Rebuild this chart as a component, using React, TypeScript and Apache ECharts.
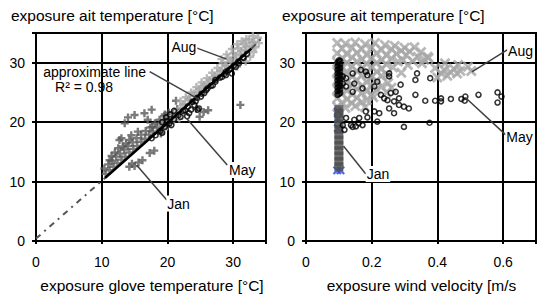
import React, { useEffect, useRef } from 'react';
import * as echarts from 'echarts';

const FONT = '"Liberation Sans", Arial, Helvetica, sans-serif';

// ---------- data (left: air temperature vs glove temperature) ----------
const yTicks = [0, 10, 20, 30];
const leftXTicks = [0, 10, 20, 30];
const rightXTicks = [0, 0.2, 0.4, 0.6];

const leftJan: number[][] = [
  [10.6, 11.3], [11.2, 11.9], [11.8, 12.5], [12.4, 13.1], [13.0, 13.7], [13.6, 14.2], [14.2, 14.9], [14.8, 15.5],
  [15.4, 16.0], [16.0, 16.7], [16.6, 17.2], [17.2, 17.9], [17.8, 18.4], [18.4, 19.1], [19.0, 19.6], [19.6, 20.2],
  [20.2, 20.8], [20.8, 21.4],
  [10.4, 12.2], [11.0, 12.9], [11.6, 13.5], [12.2, 14.2], [12.8, 14.7], [13.4, 15.4], [14.0, 16.0], [14.7, 16.6],
  [15.3, 17.3], [16.0, 17.9], [16.7, 18.5], [17.4, 19.1], [18.1, 19.8], [18.8, 20.4], [19.5, 21.0], [20.2, 21.6],
  [11.2, 13.6], [11.5, 14.3], [12.0, 14.9], [12.5, 15.6], [13.2, 15.9], [13.7, 16.4], [12.7, 17.0], [14.2, 17.0],
  [13.0, 17.3], [14.5, 17.8], [15.5, 18.4], [13.5, 19.8], [14.0, 20.8], [15.0, 21.2], [16.5, 21.5], [17.0, 20.4],
  [17.6, 22.1], [17.7, 19.2], [19.0, 18.1], [21.3, 23.6], [21.5, 22.2], [24.4, 22.2], [25.5, 21.7], [24.9, 20.9],
  [26.2, 22.0], [31.1, 22.9], [19.6, 21.3], [20.0, 19.3],
  [14.6, 13.0], [15.0, 12.6], [15.6, 13.2], [16.2, 13.6], [17.3, 14.8], [18.0, 15.2], [14.2, 12.5],
];

const leftAug: number[][] = [
  [19.2, 19.6], [19.9, 20.3], [20.6, 21.0], [21.3, 21.6], [22.0, 22.4], [22.7, 23.0], [23.4, 23.8], [24.1, 24.4],
  [24.8, 25.1], [25.5, 25.9], [26.2, 26.5], [26.9, 27.3], [27.6, 28.0], [28.3, 28.6], [29.0, 29.4], [29.7, 30.1],
  [30.4, 30.7], [31.1, 31.5], [31.8, 32.2], [32.5, 32.8], [33.2, 33.5], [33.8, 34.2],
  [22.0, 23.5], [22.8, 24.2], [23.6, 25.0], [24.4, 25.9], [25.2, 26.7], [26.0, 27.4], [26.8, 28.3], [27.6, 29.1],
  [28.4, 29.9], [29.2, 30.8], [30.0, 31.6], [30.8, 32.4], [31.6, 33.2], [32.4, 33.9],
  [22.4, 23.0], [23.2, 23.9], [24.0, 24.8], [24.8, 25.6], [25.6, 26.3], [26.4, 27.1], [27.2, 27.8], [28.0, 28.7],
  [28.8, 29.6], [29.6, 30.4], [30.4, 31.2], [31.2, 32.0], [32.0, 32.7], [32.9, 33.4],
  [28.2, 30.6], [29.0, 31.4], [29.8, 32.3], [30.6, 33.1], [31.3, 33.6], [32.0, 34.0], [33.0, 34.5],
  [31.9, 30.2], [32.6, 31.0], [33.1, 31.8], [33.4, 32.6], [30.6, 29.3], [33.9, 33.3],
  [19.5, 18.8], [20.5, 19.8], [21.8, 20.6], [22.5, 21.6], [21.0, 20.4],
];

const leftMay: number[][] = [
  [17.6, 17.3], [18.2, 17.8], [18.9, 18.5], [19.6, 19.2], [20.3, 19.8], [21.0, 20.5], [21.7, 21.2], [22.4, 21.9],
  [23.1, 22.6], [23.8, 23.4], [24.5, 24.1], [25.2, 24.8], [25.9, 25.4], [26.6, 26.1], [27.3, 26.8], [28.0, 27.5],
  [28.7, 28.1], [29.4, 28.8], [30.1, 29.5], [30.8, 30.2], [31.5, 30.9], [32.1, 31.5],
  [19.2, 18.2], [20.6, 19.5], [22.0, 20.9], [23.3, 21.5], [23.6, 22.1], [24.1, 22.9], [24.6, 22.1], [24.8, 22.3],
  [25.1, 24.3], [26.1, 25.7], [27.3, 27.1], [28.9, 27.9], [29.8, 28.2], [30.4, 29.3], [31.6, 30.8], [30.9, 29.9],
  [28.9, 28.5], [23.0, 21.0], [19.2, 20.0], [19.8, 20.8], [20.4, 21.3], [21.0, 21.9], [20.0, 20.2],
  [25.6, 24.9], [26.9, 26.2], [28.3, 27.6], [29.7, 29.0], [24.3, 23.5], [22.7, 22.0],
];

// approximate line y = f(x), R^2 = 0.98
const approxDashLow: number[][] = [[0, 0.4], [10.5, 10.6]];
const approxSolid: number[][] = [[10.5, 10.6], [32.8, 32.4]];
const approxDashHigh: number[][] = [[32.8, 32.4], [34.7, 34.5]];

// ---------- data (right: air temperature vs wind velocity) ----------
const rightAug: number[][] = [
  [0.095, 33.3], [0.12, 33.2], [0.15, 33.4], [0.18, 33.1], [0.21, 33.3], [0.24, 33.0], [0.27, 32.8], [0.30, 32.5], [0.33, 32.6],
  [0.11, 32.4], [0.14, 32.5], [0.17, 32.3], [0.20, 32.5], [0.23, 32.2], [0.26, 32.3], [0.29, 32.0], [0.315, 31.9],
  [0.095, 31.6], [0.125, 31.4], [0.155, 31.7], [0.185, 31.3], [0.215, 31.6], [0.245, 31.2], [0.275, 31.5], [0.305, 31.3],
  [0.34, 31.0], [0.36, 30.5], [0.35, 31.8], [0.37, 31.0],
  [0.11, 30.8], [0.14, 30.9], [0.17, 30.6], [0.20, 30.8], [0.23, 30.5], [0.26, 30.7], [0.295, 30.4], [0.325, 30.3],
  [0.095, 30.1], [0.125, 29.9], [0.155, 30.2], [0.185, 29.8], [0.215, 30.0], [0.245, 29.7], [0.28, 30.2], [0.31, 29.6],
  [0.373, 30.8], [0.393, 29.1], [0.423, 29.9], [0.463, 29.6], [0.493, 29.3], [0.353, 29.9],
  [0.11, 29.3], [0.14, 29.4], [0.17, 29.1], [0.20, 29.3], [0.23, 29.0], [0.265, 29.2],
  [0.095, 28.5], [0.125, 28.3], [0.155, 28.6], [0.185, 28.2], [0.215, 28.5], [0.245, 28.0], [0.29, 28.3], [0.412, 28.2],
  [0.42, 28.8], [0.44, 28.4], [0.43, 27.8], [0.45, 29.0], [0.46, 28.2], [0.47, 28.6], [0.503, 28.6], [0.40, 27.5],
  [0.11, 27.8], [0.14, 27.7], [0.17, 27.9], [0.20, 27.6], [0.23, 27.8],
  [0.095, 27.0], [0.125, 26.8], [0.155, 27.1], [0.185, 26.7], [0.215, 27.0], [0.25, 26.6],
  [0.11, 26.2], [0.14, 26.3], [0.17, 26.1], [0.20, 26.3], [0.23, 26.0],
  [0.095, 25.5], [0.125, 25.3], [0.155, 25.6], [0.185, 25.2], [0.215, 25.5], [0.245, 25.0], [0.26, 25.8],
  [0.11, 24.8], [0.14, 24.7], [0.17, 24.9], [0.20, 24.6],
  [0.095, 24.0], [0.125, 23.8], [0.155, 24.1], [0.185, 23.7], [0.205, 24.2],
  [0.11, 23.3], [0.14, 23.2], [0.17, 23.4],
  [0.095, 22.6], [0.12, 22.4], [0.15, 22.7], [0.18, 22.5],
];

const rightBlue: number[][] = [[0.095, 11.9], [0.105, 11.9], [0.097, 19.0], [0.097, 20.5], [0.097, 21.8]];

const rightJan: number[][] = [
  [0.1, 12.5], [0.1, 13.4], [0.1, 14.3], [0.1, 15.2], [0.1, 16.1], [0.1, 17.0], [0.1, 17.9], [0.1, 18.8],
  [0.1, 19.7], [0.1, 20.6], [0.1, 21.5], [0.1, 22.1],
];

const rightMay: number[][] = [
  [0.096, 24.6], [0.104, 24.9], [0.096, 25.2], [0.104, 25.5], [0.096, 25.8], [0.104, 26.1], [0.096, 26.4], [0.104, 26.7],
  [0.096, 27.0], [0.104, 27.3], [0.096, 27.6], [0.104, 27.9], [0.096, 28.2], [0.104, 28.5], [0.096, 28.8], [0.104, 29.1],
  [0.096, 29.4], [0.104, 29.7], [0.096, 30.0], [0.104, 30.3], [0.1, 30.4],
  [0.1, 24.75], [0.1, 25.35], [0.1, 25.95], [0.1, 26.55], [0.1, 27.15], [0.1, 27.75], [0.1, 28.35], [0.1, 28.95],
  [0.1, 29.55], [0.1, 30.15],
  [0.112, 27.7], [0.122, 27.4], [0.142, 28.2], [0.167, 28.8], [0.182, 28.5], [0.187, 27.9], [0.112, 26.5], [0.147, 26.5],
  [0.122, 26.0], [0.217, 26.8], [0.253, 28.2], [0.253, 27.7], [0.288, 26.3], [0.142, 25.1], [0.172, 25.7], [0.208, 26.0],
  [0.258, 24.9], [0.273, 25.1], [0.228, 24.6], [0.238, 24.0], [0.248, 23.7], [0.283, 24.0], [0.268, 23.5], [0.283, 22.9],
  [0.298, 22.6], [0.313, 22.3], [0.253, 22.3], [0.268, 21.5], [0.338, 28.2], [0.378, 27.4], [0.333, 27.1], [0.333, 24.6],
  [0.363, 23.6], [0.393, 23.6], [0.411, 24.0], [0.411, 23.5], [0.441, 23.9], [0.473, 23.9], [0.485, 24.3], [0.483, 23.6],
  [0.525, 24.6], [0.583, 25.0], [0.595, 24.3], [0.583, 23.3], [0.182, 21.8], [0.208, 21.8], [0.223, 21.5], [0.217, 20.1],
  [0.187, 20.8], [0.162, 20.7], [0.147, 20.4], [0.137, 19.5], [0.142, 19.2], [0.122, 20.7], [0.112, 19.5], [0.117, 18.7],
  [0.172, 19.5], [0.298, 19.2], [0.376, 19.9], [0.152, 19.3], [0.16, 19.8],
];

// ---------- annotations (data coordinates) ----------
type Note = { grid: number; text: string; at: number[]; align: string; bg: boolean; from?: number[]; to?: number[] };
const notes: Note[] = [
  { grid: 0, text: 'Aug', at: [22.5, 32.6], align: 'center', bg: true, from: [24.4, 32.5], to: [29.0, 30.6] },
  { grid: 0, text: 'approximate line', at: [1.1, 28.4], align: 'left', bg: false, from: [17.3, 28.5], to: [25.0, 23.7] },
  { grid: 0, text: 'R² = 0.98', at: [2.9, 25.9], align: 'left', bg: false },
  { grid: 0, text: 'May', at: [31.4, 11.95], align: 'center', bg: true, from: [22.9, 20.65], to: [29.1, 12.8] },
  { grid: 0, text: 'Jan', at: [21.7, 6.3], align: 'center', bg: true, from: [15.3, 12.8], to: [19.9, 6.9] },
  { grid: 1, text: 'Aug', at: [0.653, 32.0], align: 'center', bg: true, from: [0.616, 32.3], to: [0.505, 28.45] },
  { grid: 1, text: 'May', at: [0.650, 17.55], align: 'center', bg: true, from: [0.485, 24.15], to: [0.608, 17.85] },
  { grid: 1, text: 'Jan', at: [0.219, 11.27], align: 'center', bg: true, from: [0.114, 16.0], to: [0.182, 11.27] },
];

const plusPath = 'path://M3.5,0H6.5V3.5H10V6.5H6.5V10H3.5V6.5H0V3.5H3.5Z';
const crossPath = 'path://M0,1.8L1.8,0L5,3.2L8.2,0L10,1.8L6.8,5L10,8.2L8.2,10L5,6.8L1.8,10L0,8.2L3.2,5Z';

const black = '#000';

function yAxis(gridIndex: number) {
  return {
    type: 'value', gridIndex, min: 0, max: 35, interval: 10,
    axisLine: { show: true, lineStyle: { color: black, width: 2 } },
    axisTick: { show: true, length: 4, lineStyle: { color: black, width: 2 } },
    splitLine: { show: true, lineStyle: { color: black, width: 2 } },
    axisLabel: {
      color: black, fontSize: 14, fontFamily: FONT, margin: 11,
      formatter: (v: number) => (yTicks.includes(Math.round(v * 100) / 100) ? String(v) : ''),
    },
  };
}

function xAxis(gridIndex: number, max: number, interval: number, ticks: number[]) {
  return {
    type: 'value', gridIndex, min: 0, max, interval,
    axisLine: { show: true, onZero: false, lineStyle: { color: black, width: 2 } },
    axisTick: { show: true, length: 3, lineStyle: { color: black, width: 2 } },
    splitLine: { show: true, lineStyle: { color: black, width: 2 } },
    axisLabel: {
      color: black, fontSize: 14, fontFamily: FONT, margin: 14,
      formatter: (v: number) => {
        const r = Math.round(v * 100) / 100;
        return ticks.includes(r) ? String(r) : '';
      },
    },
  };
}

export default function App() {
  const ref = useRef<HTMLDivElement>(null);
  useEffect(() => {
    const chart = echarts.init(ref.current!, null, { renderer: 'svg' });
    const circleStyle = { color: 'rgba(255,255,255,0)', borderColor: black, borderWidth: 1.6 };
    chart.setOption({
      animation: false,
      backgroundColor: '#fff',
      grid: [
        { left: 36, top: 33, width: 230, height: 208, show: true, borderColor: black, borderWidth: 2, backgroundColor: 'transparent' },
        { left: 306, top: 33, width: 233, height: 208, show: true, borderColor: black, borderWidth: 2, backgroundColor: 'transparent' },
      ],
      xAxis: [xAxis(0, 35, 10, leftXTicks), xAxis(1, 0.7, 0.2, rightXTicks)],
      yAxis: [yAxis(0), yAxis(1)],
      series: [
        { type: 'scatter', xAxisIndex: 0, yAxisIndex: 0, data: leftJan, symbol: plusPath, symbolSize: 8, itemStyle: { color: '#595959' }, silent: true },
        { type: 'scatter', xAxisIndex: 0, yAxisIndex: 0, data: leftAug, symbol: plusPath, symbolSize: 8, itemStyle: { color: '#a6a6a6' }, silent: true },
        { type: 'scatter', xAxisIndex: 0, yAxisIndex: 0, data: leftMay, symbol: 'circle', symbolSize: 5, itemStyle: circleStyle, silent: true },
        { type: 'line', xAxisIndex: 0, yAxisIndex: 0, data: approxDashLow, symbol: 'none', silent: true, lineStyle: { color: '#555', width: 2, type: [6, 5, 2, 5] } },
        { type: 'line', xAxisIndex: 0, yAxisIndex: 0, data: approxSolid, symbol: 'none', silent: true, lineStyle: { color: black, width: 2.5 } },
        { type: 'line', xAxisIndex: 0, yAxisIndex: 0, data: approxDashHigh, symbol: 'none', silent: true, lineStyle: { color: '#555', width: 2, type: [6, 5, 2, 5] } },
        { type: 'scatter', xAxisIndex: 1, yAxisIndex: 1, data: rightAug, symbol: crossPath, symbolSize: 11, itemStyle: { color: '#a6a6a6' }, silent: true },
        { type: 'scatter', xAxisIndex: 1, yAxisIndex: 1, data: rightBlue, symbol: crossPath, symbolSize: 9, itemStyle: { color: '#2348e0' }, silent: true },
        { type: 'scatter', xAxisIndex: 1, yAxisIndex: 1, data: rightJan, symbol: 'rect', symbolSize: 9, itemStyle: { color: '#4d4d4d' }, silent: true },
        { type: 'scatter', xAxisIndex: 1, yAxisIndex: 1, data: rightMay, symbol: 'circle', symbolSize: 5, itemStyle: circleStyle, silent: true },
      ],
    });

    const px = (g: number, p: number[]) => chart.convertToPixel({ gridIndex: g } as any, p) as unknown as number[];
    const elements: any[] = [];
    notes.forEach((n) => {
      if (n.from && n.to) {
        const a = px(n.grid, n.from);
        const b = px(n.grid, n.to);
        elements.push({ type: 'line', z: 100, silent: true, shape: { x1: a[0], y1: a[1], x2: b[0], y2: b[1] }, style: { stroke: '#404040', lineWidth: 1.5 } });
      }
    });
    notes.forEach((n) => {
      const c = px(n.grid, n.at);
      elements.push({
        type: 'text', z: 101, silent: true, x: c[0], y: c[1],
        style: {
          text: n.text, font: `14px ${FONT}`, fill: black, align: n.align, verticalAlign: 'middle',
          backgroundColor: n.bg ? '#fff' : undefined, padding: n.bg ? [1, 1] : 0,
        },
      });
    });
    const titles = [
      { text: 'exposure ait temperature [°C]', x: 11, y: 15.5, align: 'left' },
      { text: 'exposure ait temperature [°C]', x: 282, y: 15.5, align: 'left' },
      { text: 'exposure glove temperature [°C]', x: 152, y: 285, align: 'center' },
      { text: 'exposure wind velocity [m/s', x: 421.5, y: 285, align: 'center' },
    ];
    titles.forEach((t) => {
      elements.push({
        type: 'text', z: 101, silent: true, x: t.x, y: t.y,
        style: { text: t.text, font: `15.5px ${FONT}`, fill: black, align: t.align, verticalAlign: 'middle' },
      });
    });
    chart.setOption({ graphic: elements });
    return () => chart.dispose();
  }, []);
  return <div ref={ref} style={{ position: 'fixed', left: 0, top: 0, width: 539, height: 302, background: '#fff' }} />;
}
